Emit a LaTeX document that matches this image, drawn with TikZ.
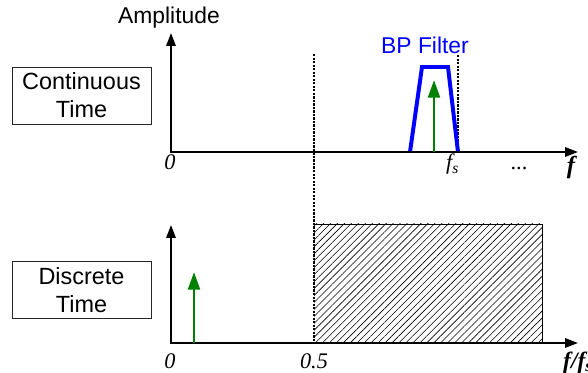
\documentclass[tikz,border=0pt]{standalone}
\usepackage{fontspec}
\setmainfont{Liberation Serif}
\setsansfont{Liberation Sans}
\usetikzlibrary{arrows.meta, patterns.meta}
\definecolor{verdeTono}{RGB}{0,128,0}
\definecolor{azulFiltro}{RGB}{0,0,255}
\tikzset{
  sp/box/.style={rectangle, draw=black!85, fill=white,
    minimum width=41.7mm, minimum height=17.1mm, line width=0.7pt,
    font=\sffamily\fontsize{20}{24}\selectfont, align=center, inner sep=0pt},
  sp/txt/.style={font=\sffamily\fontsize{19.5}{22}\selectfont, inner sep=0pt},
  sp/lbl/.style={font=\itshape\fontsize{19}{21}\selectfont, inner sep=0pt,
    anchor=base},
  sp/axis/.style={{Triangle[length=11pt,width=8pt]}-{Triangle[length=11pt,width=8pt]},
    line width=1.4pt},
  sp/tone/.style={-{Triangle[length=15pt,width=10pt]}, line width=2.5pt,
    draw=verdeTono, color=verdeTono},
  sp/filter/.style={line width=3.4pt, draw=azulFiltro},
  sp/mark/.style={dash pattern=on 2pt off 1pt, line width=0.9pt},
  sp/hatch/.style={pattern={Lines[angle=45,distance=4.2pt,line width=0.5pt]}}
}

\begin{document}
\begin{tikzpicture}[x=0.03cm, y=-0.03cm]
  \useasboundingbox (0,0) rectangle (588,373);

  % Cajas de dominio
  \node[sp/box] at (81.5, 95.5) (ct) {Continuous\\Time};
  \node[sp/box] at (81.5,290.0) (dt) {Discrete\\Time};

  % Ejes del espectro continuo
  \coordinate (ctop) at (171, 33);
  \coordinate (cend) at (578,152);
  \node[sp/txt] at (169, 18) (amp) {Amplitude};

  % Ejes del espectro discreto
  \coordinate (dtop) at (171,225);
  \coordinate (dend) at (578,343);

  % Banda de alias (rayada), de 0.5 hasta el final
  \coordinate (hA) at (314,224);
  \coordinate (hB) at (542,343);
  \fill[sp/hatch] (hA) rectangle (hB);
  \draw[line width=0.6pt] (hA) -- (hA -| hB) -- (hB);

  % Lineas punteadas en fs/2 y fs
  \coordinate (mA) at (314, 54);
  \coordinate (mB) at (314,343);
  \coordinate (sA) at (458, 55);
  \coordinate (sB) at (458,152);
  \draw[sp/mark] (mA) -- (mB);
  \draw[sp/mark] (sA) -- (sB);

  % Filtro pasabanda
  \coordinate (f1) at (410,152);
  \coordinate (f2) at (422, 67);
  \coordinate (f3) at (448, 67);
  \coordinate (f4) at (458,152);
  \draw[sp/filter] (f1) -- (f2) -- (f3) -- (f4);
  \node[sp/txt, text=azulFiltro] at (425, 45) (bp) {BP Filter};

  % Ejes
  \draw[sp/axis] (ctop) |- (cend);
  \draw[sp/axis] (dtop) |- (dend);

  % Tonos
  \coordinate (t1) at (434,152);
  \coordinate (t2) at (194,343);
  \draw[sp/tone] (t1) -- ++(0,-72);
  \draw[sp/tone] (t2) -- ++(0,-71);

  % Rotulos de frecuencia
  \node[sp/lbl] at (170,170) (z1) {0};
  \node[sp/lbl, anchor=base west] at (446,170) (fs) {f\textsubscript{s}};
  \node[sp/lbl] at (519,170) (dots) {\upshape...};
  \node[sp/lbl, font=\bfseries\itshape\fontsize{21}{23}\selectfont] at (571,174) (f) {f};
  \node[sp/lbl] at (170,368) (z2) {0};
  \node[sp/lbl] at (314,368) (half) {0.5};
  \node[sp/lbl, anchor=base west, font=\bfseries\itshape\fontsize{20}{22}\selectfont]
        at (563,368) (ffs) {f/f\textsubscript{s}};
\end{tikzpicture}
\end{document}
